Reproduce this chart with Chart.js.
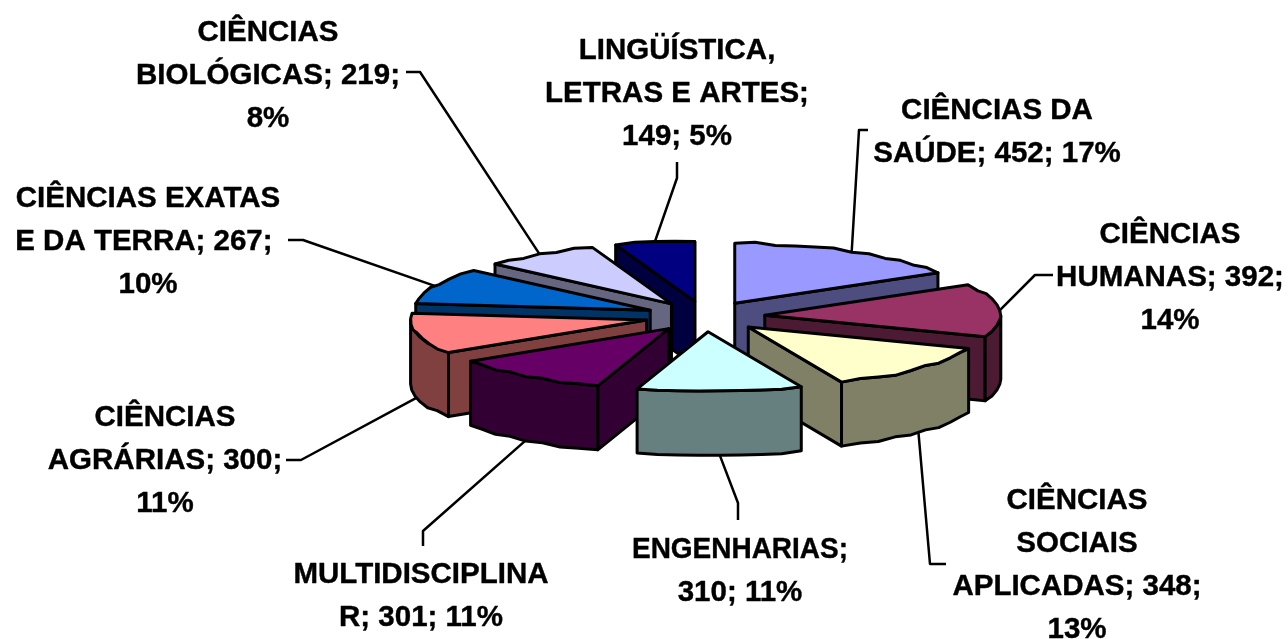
<!DOCTYPE html>
<html><head><meta charset="utf-8">
<style>html,body{margin:0;padding:0;background:#fff}canvas{display:block}</style>
<script src="https://cdn.jsdelivr.net/npm/chart.js@4"></script>
</head><body><canvas id="c" width="1288" height="639"></canvas>
<script>
const categories = ["CIÊNCIAS DA SAÚDE","CIÊNCIAS HUMANAS","CIÊNCIAS SOCIAIS APLICADAS","ENGENHARIAS","MULTIDISCIPLINAR","CIÊNCIAS AGRÁRIAS","CIÊNCIAS EXATAS E DA TERRA","CIÊNCIAS BIOLÓGICAS","LINGÜÍSTICA, LETRAS E ARTES"];
const values = [452,392,348,310,301,300,267,219,149];
const topColors = ["#9999FF","#993366","#FFFFCC","#CCFFFF","#660066","#FF8080","#0066CC","#CCCCFF","#000080"];
const wallColors = ["#4D4D80","#4D1A33","#808066","#668080","#330033","#804040","#003366","#666680","#000040"];
const labelLines = [
 ["CIÊNCIAS DA","SAÚDE; 452; 17%"],
 ["CIÊNCIAS","HUMANAS; 392;","14%"],
 ["CIÊNCIAS","SOCIAIS","APLICADAS; 348;","13%"],
 ["ENGENHARIAS;","310; 11%"],
 ["MULTIDISCIPLINA","R; 301; 11%"],
 ["CIÊNCIAS","AGRÁRIAS; 300;","11%"],
 ["CIÊNCIAS EXATAS","E DA TERRA; 267; ","10%"],
 ["CIÊNCIAS","BIOLÓGICAS; 219;","8%"],
 ["LINGÜÍSTICA,","LETRAS E ARTES;","149; 5%"]
];
const labelCenters = [[997,119],[1170,243],[1077,509],[740,558],[421,583],[165,426],[148,207],[268,41],[677,59]];
const leaderBends = [
 [[859,130],[868,130]],
 [[1035,275],[1053,275]],
 [[930,564],[946,564]],
 [[738,503],[738,520]],
 [[423,531],[423,546]],
 [[301,460],[286,460]],
 [[303,240],[288,240]],
 [[420,72],[406,72]],
 [[677,178],[677,162]]
];
const SQUASH = 0.254, DEPTH = 64, LINE_PITCH = 43, GRID = 6.5, GRID_PULL = 0.45;

const pie3d = {
  id:'pie3d',
  beforeDatasetsDraw(chart){
    const ctx = chart.ctx, arcs = chart.getDatasetMeta(0).data;
    const cy = arcs[0].y;
    const geo = arcs.map((a,i)=>{
      const mid=(a.startAngle+a.endAngle)/2, off=a.options.offset;
      const ox=a.x+Math.cos(mid)*off, oy=cy+Math.sin(mid)*off*SQUASH;
      const r=a.outerRadius, rv=r*SQUASH;
      const pt=(t,d=0)=>[ox+r*Math.cos(t), oy+rv*Math.sin(t)+d];
      return {i,a,mid,ox,oy,r,rv,pt};
    });
    // rim traced as a coarse polyline: the source's metafile arcs step on a low-resolution grid
    const rim=(g,t0,t1,d)=>{
      const n=Math.max(2,Math.round(Math.abs(t1-t0)/0.09));
      for(let k=0;k<=n;k++){
        const p=g.pt(t0+(t1-t0)*k/n,d);
        let y=p[1];
        if(k>0&&k<n) y+=GRID_PULL*(Math.round(y/GRID)*GRID-y);
        ctx.lineTo(p[0],y);
      }
    };
    ctx.save();
    ctx.strokeStyle='#000'; ctx.lineWidth=3; ctx.lineJoin='round';
    const paint=(fill)=>{ctx.closePath();ctx.fillStyle=fill;ctx.fill();ctx.stroke();};
    [...geo].sort((p,q)=>Math.sin(p.mid)-Math.sin(q.mid)).forEach(g=>{
      const {a,ox,oy,pt}=g, s=a.startAngle, e=a.endAngle, wall=wallColors[g.i];
      const face=(t)=>{const p=pt(t);ctx.beginPath();ctx.moveTo(ox,oy);ctx.lineTo(p[0],p[1]);ctx.lineTo(p[0],p[1]+DEPTH);ctx.lineTo(ox,oy+DEPTH);paint(wall);};
      if(Math.cos(s)<0) face(s);
      if(Math.cos(e)>0) face(e);
      const f0=Math.max(s,0), f1=Math.min(e,Math.PI);
      if(f1>f0){
        ctx.beginPath();
        const p0=pt(f0);ctx.moveTo(p0[0],p0[1]);
        rim(g,f0,f1,0);
        rim(g,f1,f0,DEPTH);
        paint(wall);
      }
      ctx.beginPath();ctx.moveTo(ox,oy);rim(g,s,e,0);paint(topColors[g.i]);
    });
    ctx.lineWidth=2.5;
    geo.forEach(g=>{
      const p=g.pt(g.mid, Math.sin(g.mid)>0?DEPTH:0);
      ctx.beginPath();ctx.moveTo(p[0],p[1]);
      leaderBends[g.i].forEach(b=>ctx.lineTo(b[0],b[1]));
      ctx.stroke();
    });
    ctx.fillStyle='#000';ctx.textAlign='center';ctx.textBaseline='alphabetic';
    ctx.font='bold 29.5px "Liberation Sans", Arial, sans-serif';
    ctx.lineWidth=0.4;
    labelLines.forEach((ls,i)=>ls.forEach((t,j)=>{
      const x=labelCenters[i][0], y=labelCenters[i][1]+j*LINE_PITCH;
      const w=t==="ENGENHARIAS;"?216:undefined;
      if(w){ctx.fillText(t,x,y,w);ctx.strokeText(t,x,y,w);}
      else {ctx.fillText(t,x,y);ctx.strokeText(t,x,y);}
    }));
    ctx.restore();
    return false;
  }
};
new Chart(document.getElementById('c'),{
  type:'pie',
  data:{labels:categories,datasets:[{data:values,backgroundColor:topColors,offset:60,radius:236,borderWidth:0}]},
  options:{responsive:false,animation:false,
    layout:{padding:{left:122,bottom:6}},
    plugins:{legend:{display:false},tooltip:{enabled:false}}},
  plugins:[pie3d]
});
</script></body></html>
